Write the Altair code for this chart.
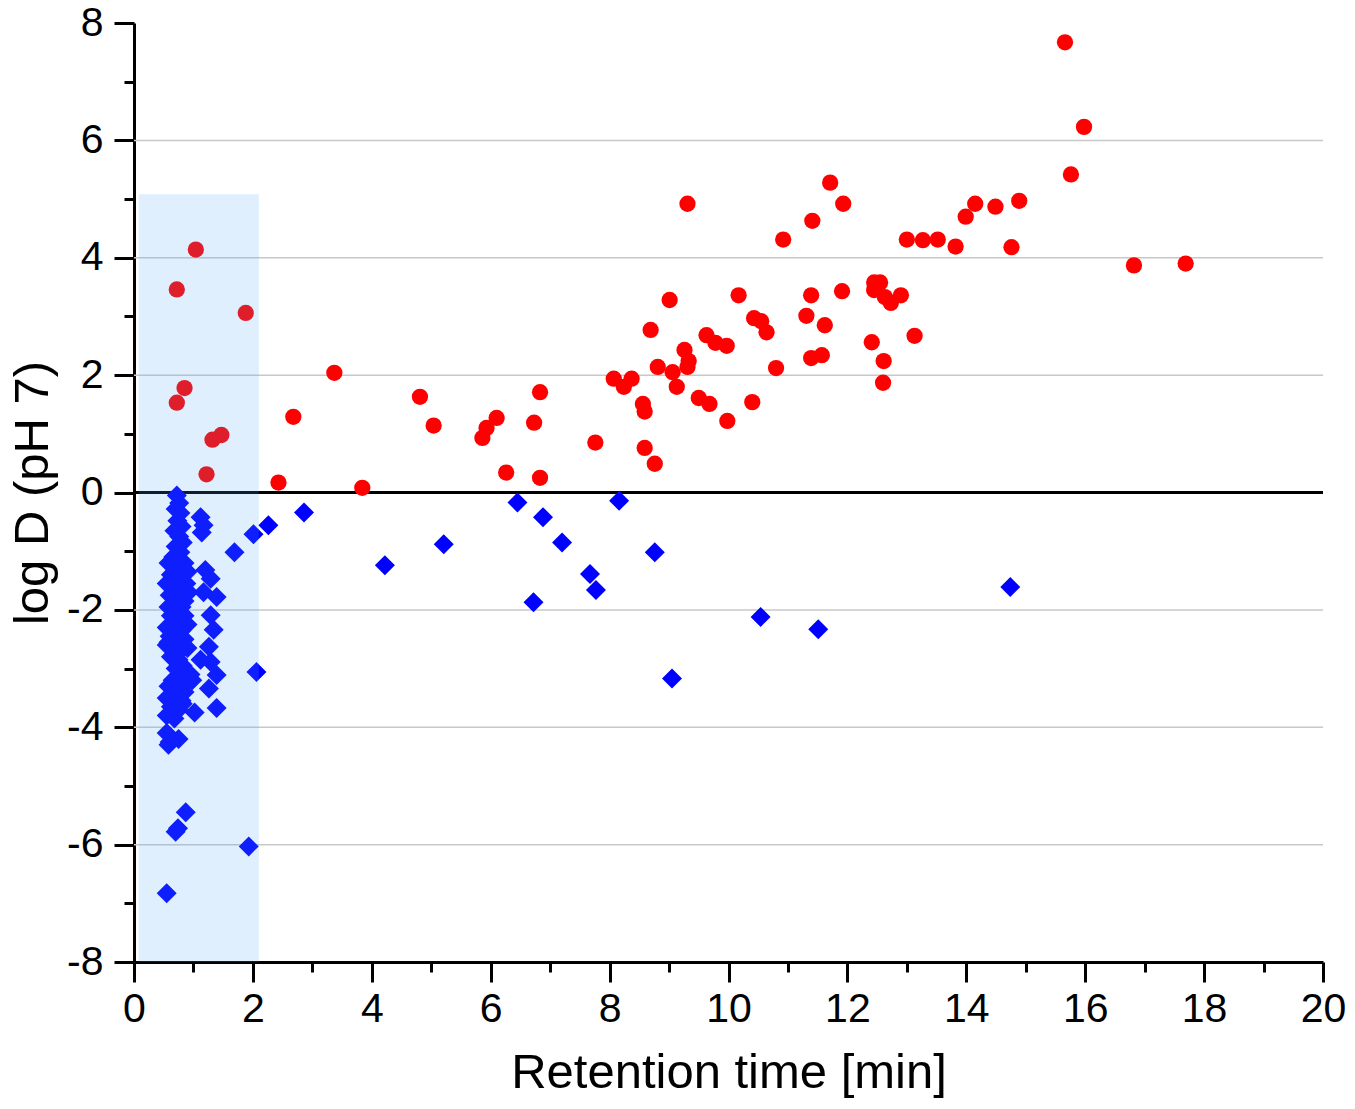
import altair as alt
import pandas as pd

# ---- data ----
red_x = [1.04, 0.72, 1.88, 0.85, 0.72, 1.32, 1.47, 1.22,
         2.43, 2.68, 3.37, 3.84, 4.81, 5.04, 5.86, 5.93, 6.10, 6.26, 6.73, 6.83, 6.83,
         7.76, 8.07, 8.24, 8.37, 8.56, 8.59, 8.59, 8.76, 8.69, 8.81, 9.01, 9.06, 9.13,
         9.26, 9.31, 9.31, 9.33, 9.50, 9.63, 9.68, 9.78, 9.97, 9.98, 10.17, 10.40,
         10.43, 10.55, 10.64, 10.80, 10.92, 11.31, 11.39, 11.39, 11.41, 11.57, 11.62,
         11.71, 11.91, 11.93, 12.41, 12.45, 12.45, 12.55, 12.61, 12.60, 12.63, 12.73,
         12.90, 13.00, 13.13, 13.27, 13.52, 13.82, 13.99, 14.15, 14.49, 14.76, 14.89,
         15.66, 15.76, 15.98, 16.82, 17.69]
red_y = [4.14, 3.46, 3.06, 1.78, 1.53, 0.90, 0.98, 0.31,
         0.17, 1.29, 2.04, 0.08, 1.63, 1.14, 0.93, 1.10, 1.27, 0.34, 1.19, 0.25, 1.71,
         0.85, 1.94, 1.80, 1.94, 1.51, 1.38, 0.76, 0.49, 2.77, 2.14, 3.28, 2.05, 1.80,
         2.43, 4.92, 2.14, 2.24, 1.61, 2.68, 1.51, 2.55, 2.50, 1.22, 3.36, 1.54,
         2.97, 2.92, 2.73, 2.12, 4.31, 3.01, 3.36, 2.29, 4.63, 2.34, 2.85,
         5.28, 3.43, 4.92, 2.56, 3.58, 3.45, 3.58, 2.24, 1.87, 3.33, 3.23,
         3.36, 4.31, 2.67, 4.30, 4.31, 4.19, 4.70, 4.92, 4.87, 4.18, 4.97,
         7.67, 5.42, 6.23, 3.87, 3.90]

blue_x = [2.26, 2.01, 1.69, 2.86, 4.22, 5.21, 6.45, 6.88, 7.20, 6.72, 7.67, 7.77,
          8.16, 8.76, 9.05, 10.54, 11.51, 14.74, 2.06, 1.93, 0.87, 0.74, 0.70, 0.55,
          1.12, 1.17, 1.14, 1.20, 1.29, 1.17, 1.39, 1.29, 1.34, 1.26, 1.12, 1.29,
          1.39, 1.26, 1.39, 1.02, 0.98,
          0.72, 0.76, 0.70, 0.78, 0.73, 0.80, 0.68, 0.76, 0.82, 0.70, 0.78, 0.66,
          0.58, 0.65, 0.75, 0.85, 0.90, 0.62, 0.72, 0.80, 0.55,
          0.68, 0.78, 0.88, 0.60, 0.72, 0.85, 0.58, 0.70, 0.80, 0.92,
          0.62, 0.75, 0.85, 0.55, 0.68, 0.80, 0.90, 0.60, 0.72, 0.85,
          0.55, 0.65, 0.78, 0.90, 0.62, 0.75, 0.70, 0.82, 0.58,
          0.78, 0.65, 0.88, 0.95, 0.58, 0.72, 0.85, 0.55, 0.68, 0.80,
          0.62, 0.75, 0.55, 0.68, 0.82, 0.55, 0.60, 0.75, 0.58]
blue_y = [-0.56, -0.71, -1.02, -0.34, -1.24, -0.88, -0.17, -0.42, -0.85, -1.87, -1.39, -1.66,
          -0.14, -1.02, -3.17, -2.12, -2.33, -1.61, -3.06, -6.03, -5.45, -5.72, -5.78, -6.83,
          -0.42, -0.56, -0.68, -1.32, -1.47, -1.70, -1.78, -2.09, -2.34, -2.63, -2.85, -2.89,
          -3.11, -3.34, -3.67, -3.75, -3.20,
          -0.05, -0.18, -0.28, -0.35, -0.48, -0.58, -0.65, -0.75, -0.85, -0.92, -1.02, -1.10,
          -1.20, -1.15, -1.25, -1.20, -1.35, -1.40, -1.45, -1.50, -1.55,
          -1.60, -1.65, -1.55, -1.75, -1.80, -1.85, -1.95, -2.00, -1.95, -1.70,
          -2.10, -2.15, -2.10, -2.30, -2.30, -2.35, -2.25, -2.45, -2.50, -2.50,
          -2.60, -2.65, -2.70, -2.65, -2.80, -2.85, -3.00, -2.95, -2.55,
          -3.10, -3.20, -3.20, -3.10, -3.30, -3.35, -3.40, -3.50, -3.50, -3.55,
          -3.65, -3.70, -3.80, -3.85, -3.60, -4.10, -4.25, -4.20, -4.30]

x_major = list(range(0, 21, 2))
x_minor = list(range(1, 20, 2))
y_major = list(range(-8, 9, 2))
y_minor = list(range(-7, 8, 2))
y_grid = [-6, -4, -2, 2, 4, 6]
zero_line = [0]
shade_x = [0.08]
shade_x2 = [2.1]
shade_y = [-8]
shade_y2 = [5.08]

FONT = "Liberation Sans"
xs = alt.Scale(domain=[0, 20], nice=False, zero=False)
ys = alt.Scale(domain=[-8, 8], nice=False, zero=False)

red_df = pd.DataFrame({"x": red_x, "y": red_y})
blue_df = pd.DataFrame({"x": blue_x, "y": blue_y})
grid_df = pd.DataFrame({"y": y_grid})
zero_df = pd.DataFrame({"y": zero_line})
shade_df = pd.DataFrame({"x": shade_x, "x2": shade_x2, "y": shade_y, "y2": shade_y2})
xminor_df = pd.DataFrame({"x": x_minor})
yminor_df = pd.DataFrame({"y": y_minor})

LABEL_EXPR = "datum.value < 0 ? '-' + abs(datum.value) : '' + datum.value"

major_common = dict(tickWidth=3, tickColor="black", domainColor="black", domainWidth=3,
                    labelFontSize=41, labelFont=FONT, labelColor="black",
                    titleFontSize=49, titleFont=FONT, titleFontWeight="normal",
                    titleColor="black", grid=False, labelFlush=False, labelOverlap=False,
                    tickSize=20, labelExpr=LABEL_EXPR)

x_axis = alt.Axis(values=x_major, orient="bottom", labelPadding=7, titlePadding=19,
                  title="Retention time [min]", **major_common)
y_axis = alt.Axis(values=y_major, orient="left", labelPadding=11, titlePadding=9,
                  title="log D (pH 7)", **major_common)

grid = alt.Chart(grid_df).mark_rule(color="#c8c8c8", strokeWidth=1.5).encode(
    y=alt.Y("y:Q", scale=ys, axis=None))
zero = alt.Chart(zero_df).mark_rule(color="black", strokeWidth=3).encode(
    y=alt.Y("y:Q", scale=ys, axis=None))

red = alt.Chart(red_df).mark_point(shape="circle", filled=True, opacity=1,
                                   size=265, color="#ff0000").encode(
    x=alt.X("x:Q", scale=xs, axis=x_axis),
    y=alt.Y("y:Q", scale=ys, axis=y_axis))
blue = alt.Chart(blue_df).mark_point(shape="diamond", filled=True, opacity=1,
                                     size=400, color="#0000ff").encode(
    x=alt.X("x:Q", scale=xs, axis=None),
    y=alt.Y("y:Q", scale=ys, axis=None))

shade = alt.Chart(shade_df).mark_rect(color="#4ea7f4", opacity=0.18).encode(
    x=alt.X("x:Q", scale=xs, axis=None), x2="x2:Q",
    y=alt.Y("y:Q", scale=ys, axis=None), y2="y2:Q")

xminor = alt.Chart(xminor_df).mark_point(opacity=0).encode(
    x=alt.X("x:Q", scale=xs,
            axis=alt.Axis(values=x_minor, orient="bottom", labels=False, domain=False,
                          tickSize=10, tickWidth=3, tickColor="black", grid=False,
                          title=None)))
yminor = alt.Chart(yminor_df).mark_point(opacity=0).encode(
    y=alt.Y("y:Q", scale=ys,
            axis=alt.Axis(values=y_minor, orient="left", labels=False, domain=False,
                          tickSize=10, tickWidth=3, tickColor="black", grid=False,
                          title=None)))

chart = alt.layer(grid, zero, red, blue, shade, xminor, yminor).resolve_axis(
    x="independent", y="independent"
).properties(
    width=1189, height=939,
    padding={"left": 126, "top": 15, "right": 24, "bottom": 139},
    autosize=alt.AutoSizeParams(type="none"),
).configure_view(stroke=None)

chart.save("out.html", embed_options={"renderer": "svg", "actions": False})
